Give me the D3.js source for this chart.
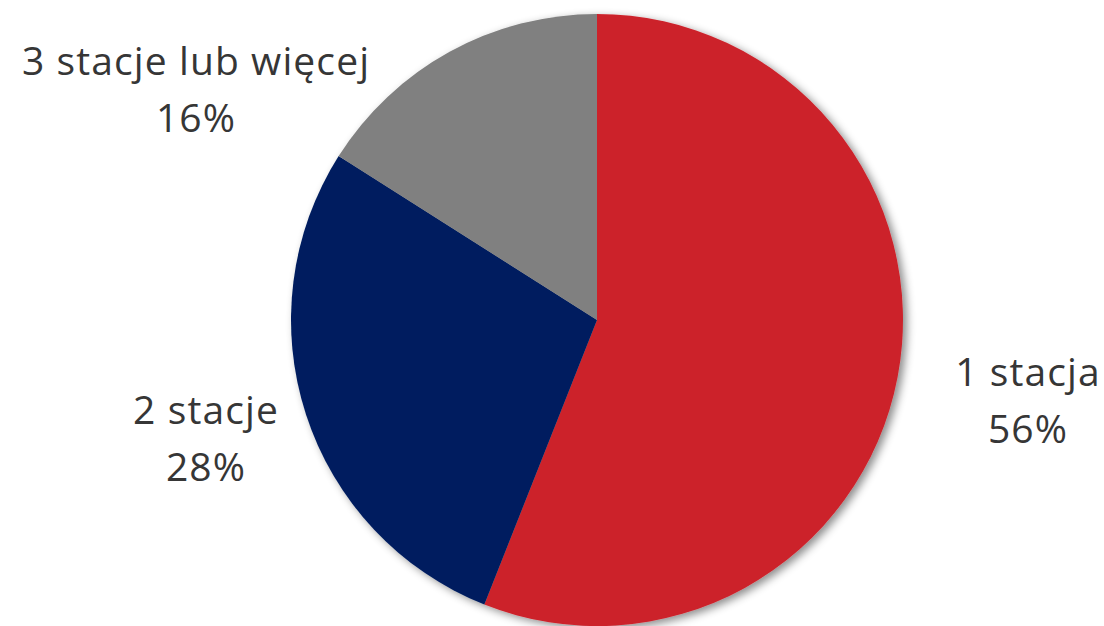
<!DOCTYPE html>
<html lang="pl">
<head>
  <meta charset="UTF-8">
  <title>Liczba stacji</title>
  <style>
    body { margin: 0; background: #fff; }
    #chart { width: 1104px; height: 626px; }
    text { font-family: "Open Sans", Lato, sans-serif; fill: #363636; letter-spacing: 1.1px; }
  </style>
</head>
<body>
  <div id="chart"></div>
  <script src="https://d3js.org/d3.v7.min.js"></script>
  <script>
    const categories = ["1 stacja", "2 stacje", "3 stacje lub więcej"];
    const shares = [56, 28, 16];
    const colors = ["#CC232C", "#001F5F", "#808080"];

    const width = 1104, height = 626;
    const cx = 597, cy = 320, radius = 306;

    // label baselines, relative to pie centre (Excel "best fit")
    const labelPos = [[431, 66], [-391, 104], [-401, -245]];

    const data = categories.map((c, i) => ({ name: c, value: shares[i] }));

    const svg = d3.select("#chart").append("svg")
      .attr("width", width)
      .attr("height", height);

    const defs = svg.append("defs");
    const f = defs.append("filter").attr("id", "shadow")
      .attr("x", "-10%").attr("y", "-10%").attr("width", "120%").attr("height", "120%");
    f.append("feDropShadow")
      .attr("dx", 4).attr("dy", 3).attr("stdDeviation", 4)
      .attr("flood-color", "#000").attr("flood-opacity", 0.45);

    const pie = d3.pie().sort(null).value(d => d.value);
    const arc = d3.arc().innerRadius(0).outerRadius(radius);

    const g = svg.append("g").attr("transform", `translate(${cx},${cy})`);

    g.append("g").attr("filter", "url(#shadow)")
      .selectAll("path")
      .data(pie(data))
      .enter()
      .append("path")
      .attr("d", arc)
      .attr("fill", (d, i) => colors[i]);

    const labels = g.selectAll(".lbl")
      .data(pie(data))
      .enter()
      .append("text")
      .attr("class", "lbl")
      .attr("text-anchor", "middle")
      .attr("font-size", 39)
      .attr("transform", (d, i) => `translate(${labelPos[i][0]},${labelPos[i][1]})`);

    labels.append("tspan").attr("x", 0).attr("y", 0).text(d => d.data.name);
    labels.append("tspan").attr("x", 0).attr("y", 57).text(d => d.data.value + "%");
  </script>
</body>
</html>
